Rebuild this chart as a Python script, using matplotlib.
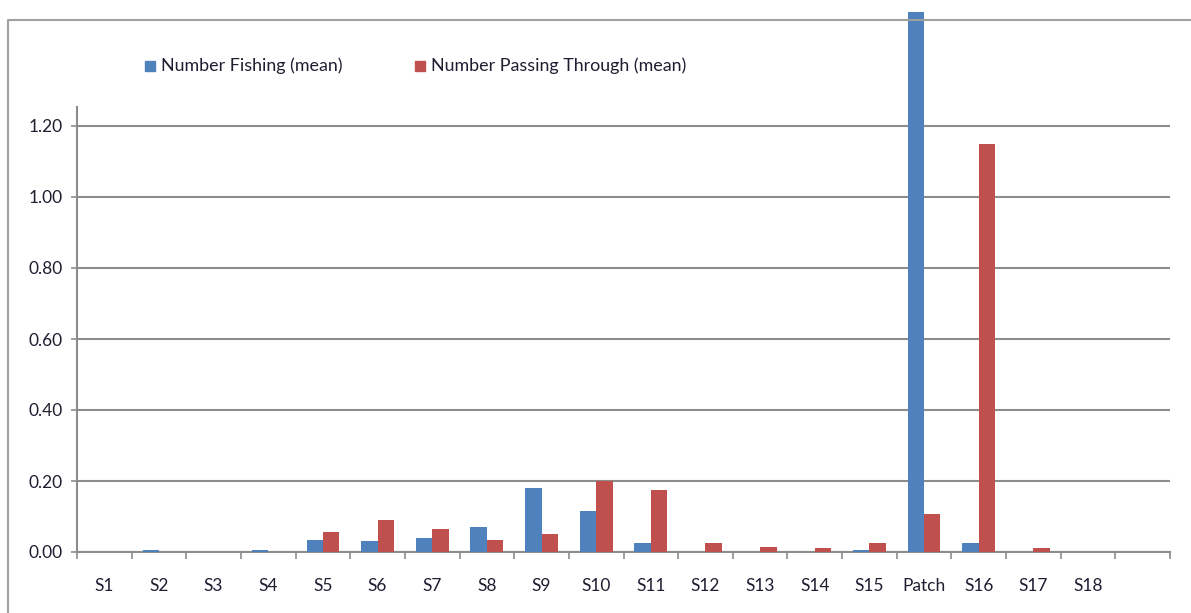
import numpy as np
import matplotlib.pyplot as plt
from matplotlib.lines import Line2D
from matplotlib.patches import Rectangle

plt.rcParams['font.family'] = ['Lato', 'DejaVu Sans']

# mean counts per station
stations = ['S1', 'S2', 'S3', 'S4', 'S5', 'S6', 'S7', 'S8', 'S9', 'S10',
            'S11', 'S12', 'S13', 'S14', 'S15', 'Patch', 'S16', 'S17', 'S18']
fishing = [0.0, 0.007, 0.0, 0.007, 0.035, 0.03, 0.04, 0.07, 0.18, 0.116,
           0.026, 0.0, 0.0, 0.0, 0.007, 1.52, 0.026, 0.0, 0.0]
passing = [0.0, 0.0, 0.0, 0.0, 0.056, 0.09, 0.065, 0.035, 0.05, 0.20,
           0.176, 0.026, 0.015, 0.01, 0.026, 0.106, 1.15, 0.01, 0.0]
yticks = [0.0, 0.2, 0.4, 0.6, 0.8, 1.0, 1.2]

blue = '#4F81BD'
red = '#C0504D'
grid = '#8C8C8C'
txt = '#1E1E32'

W, H = 1191, 613
fig = plt.figure(figsize=(W / 100, H / 100), dpi=100)
# axes from the baseline (y=552px) to the top edge of the figure
ax = fig.add_axes([77 / W, (H - 552) / H, (1170 - 77) / W, 552 / H])

nslot = 20
x = np.arange(len(stations))
bw = 0.3
ax.bar(x - bw / 2, fishing, bw, color=blue, zorder=3)
ax.bar(x + bw / 2, passing, bw, color=red, zorder=3)

ymax = 552 / 355
ax.set_xlim(-0.5, nslot - 0.5)
ax.set_ylim(0, ymax)

for v in yticks:
    ax.axhline(v, color=grid, lw=1.5, zorder=1)

for s in ['top', 'right']:
    ax.spines[s].set_visible(False)
ax.spines['left'].set_bounds(0, 1.253)
ax.spines['left'].set_color(grid)
ax.spines['left'].set_linewidth(1.5)
ax.spines['bottom'].set_color(grid)
ax.spines['bottom'].set_linewidth(1.5)

ax.set_yticks(yticks)
ax.set_yticklabels(['%.2f' % v for v in yticks])
ax.tick_params(axis='y', length=4.5, width=1.2, color=grid, pad=6,
               labelsize=12.5, labelcolor=txt)

# category boundaries get the tick marks, centers get the labels
ax.set_xticks(np.arange(nslot + 1) - 0.5)
ax.set_xticklabels([])
ax.set_xticks(x, minor=True)
ax.set_xticklabels(stations, minor=True)
ax.tick_params(axis='x', which='major', length=5, width=1.2, color=grid)
ax.tick_params(axis='x', which='minor', length=0, pad=19,
               labelsize=12.5, labelcolor=txt)

# legend
for px, color, label in [(145, blue, 'Number Fishing (mean)'),
                         (415, red, 'Number Passing Through (mean)')]:
    fig.patches.append(Rectangle((px / W, (H - 71) / H), 10 / W, 10 / H,
                                 color=color, transform=fig.transFigure))
    fig.text((px + 16) / W, (H - 66) / H, label, fontsize=12.9, color=txt,
             va='center', ha='left')

# chart border (top and left)
fig.add_artist(Line2D([8 / W, 8 / W, 1], [0, (H - 20) / H, (H - 20) / H],
                      color='#A0A0A0', lw=1.5, transform=fig.transFigure))

fig.savefig('out.png', dpi=100)
